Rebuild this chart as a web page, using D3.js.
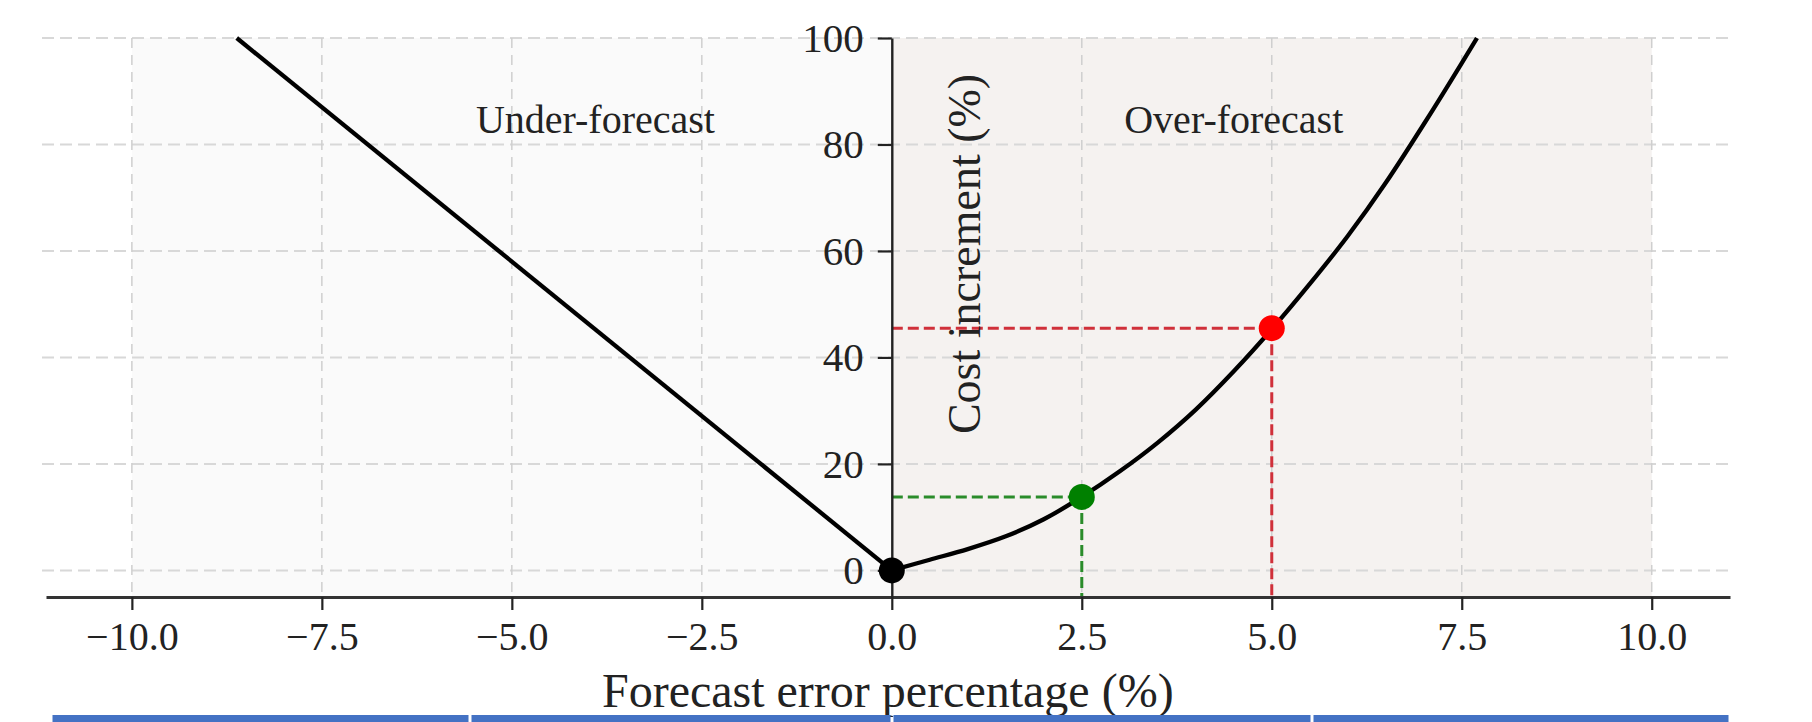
<!DOCTYPE html>
<html lang="en">
<head>
	<meta charset="utf-8">
	<title>Cost increment vs forecast error</title>
	<script type="text/javascript" src="https://d3js.org/d3.v7.min.js"></script>
	<style type="text/css">
		body { margin: 0; background: white; }
		svg text { font-family: "Liberation Serif", "Times New Roman", serif; fill: #222; }
	</style>
</head>
<body>
	<script type="text/javascript">
		// values
		var xTicks = [-10, -7.5, -5, -2.5, 0, 2.5, 5, 7.5, 10];
		var yTicks = [0, 20, 40, 60, 80, 100];

		var underX = [-8.62, 0];
		var underY = [100, 0];

		var overX = [0, 0.5, 1, 1.5, 2, 2.5, 3, 3.5, 4, 4.5, 5, 5.5, 6, 6.5, 7, 7.5, 7.7];
		var overY = [0, 2.0, 4.0, 6.4, 9.6, 13.8, 18.6, 24.0, 30.2, 37.4, 45.3, 53.8, 62.8, 72.8, 83.8, 95.3, 100];

		var pointX = [0, 2.5, 5];
		var pointY = [0, 13.8, 45.5];
		var pointName = ["origin", "moderate", "large"];

		var spans = [{from: -10, to: 0, label: "Under-forecast", labelX: -3.9},
		             {from: 0, to: 10, label: "Over-forecast", labelX: 4.5}];

		var width = 1812, height = 722;

		var dotColor = {origin: "#000000", moderate: "#008000", large: "#ff0000"};
		var guideColor = {moderate: "#2a8c2a", large: "#d0303a"};
		var spanColor = ["#fafafa", "#f5f2f0"];

		var x = d3.scaleLinear().domain([-11.13, 11.03]).range([46, 1730]);
		var y = d3.scaleLinear().domain([-5, 100]).range([597, 38]);

		var svg = d3.select("body")
			.append("svg")
			.attr("width", width)
			.attr("height", height);

		// shaded halves
		svg.selectAll(".span")
			.data(spans)
			.enter()
			.append("rect")
			.attr("class", "span")
			.attr("x", function(d) { return x(d.from); })
			.attr("y", y(100))
			.attr("width", function(d) { return x(d.to) - x(d.from); })
			.attr("height", y(-5) - y(100))
			.attr("fill", function(d, i) { return spanColor[i]; });

		// grid
		svg.selectAll(".hgrid")
			.data(yTicks)
			.enter()
			.append("line")
			.attr("x1", x.range()[0] - 4)
			.attr("x2", x.range()[1])
			.attr("y1", function(d) { return y(d); })
			.attr("y2", function(d) { return y(d); })
			.attr("stroke", "#d8d8d8")
			.attr("stroke-width", 2)
			.attr("stroke-dasharray", "12,6");

		svg.selectAll(".vgrid")
			.data(xTicks.filter(function(d) { return d !== 0; }))
			.enter()
			.append("line")
			.attr("x1", function(d) { return x(d); })
			.attr("x2", function(d) { return x(d); })
			.attr("y1", y(100))
			.attr("y2", y(-5))
			.attr("stroke", "#cfcfcf")
			.attr("stroke-width", 1.5)
			.attr("stroke-dasharray", "10,7");

		// region labels
		svg.selectAll(".spanlabel")
			.data(spans)
			.enter()
			.append("text")
			.attr("x", function(d) { return x(d.labelX); })
			.attr("y", y(82.2))
			.attr("text-anchor", "middle")
			.style("font-size", "40px")
			.text(function(d) { return d.label; });

		// dashed guides to the axes
		var guides = pointName.map(function(n, i) {
			return {name: n, px: pointX[i], py: pointY[i]};
		}).filter(function(d) { return guideColor[d.name]; });

		var g = svg.selectAll(".guide")
			.data(guides)
			.enter()
			.append("g");

		g.append("line")
			.attr("x1", x(0))
			.attr("x2", function(d) { return x(d.px); })
			.attr("y1", function(d) { return y(d.py); })
			.attr("y2", function(d) { return y(d.py); });
		g.append("line")
			.attr("x1", function(d) { return x(d.px); })
			.attr("x2", function(d) { return x(d.px); })
			.attr("y1", function(d) { return y(d.py); })
			.attr("y2", y(-5));
		g.selectAll("line")
			.attr("stroke", function() { return guideColor[d3.select(this.parentNode).datum().name]; })
			.attr("stroke-width", 3)
			.attr("stroke-dasharray", "11,5");

		// cost curves
		var line = d3.line()
			.x(function(d) { return x(d[0]); })
			.y(function(d) { return y(d[1]); })
			.curve(d3.curveMonotoneX);

		svg.append("path")
			.datum(d3.zip(underX, underY))
			.attr("d", line)
			.attr("fill", "none")
			.attr("stroke", "#000")
			.attr("stroke-width", 4.3);

		svg.append("path")
			.datum(d3.zip(overX, overY))
			.attr("d", line)
			.attr("fill", "none")
			.attr("stroke", "#000")
			.attr("stroke-width", 4.3);

		// axes
		var xAxis = d3.axisBottom(x)
			.tickValues(xTicks)
			.tickFormat(d3.format(".1f"))
			.tickSizeInner(13)
			.tickSizeOuter(0)
			.tickPadding(12);

		var xg = svg.append("g")
			.attr("transform", "translate(0," + y(-5) + ")")
			.call(xAxis);
		xg.select(".domain").attr("stroke", "#333").attr("stroke-width", 3);
		xg.selectAll(".tick line").attr("stroke", "#222").attr("stroke-width", 2.2);
		xg.selectAll(".tick text")
			.attr("font-family", null)
			.style("font-size", "40px")
			.attr("fill", null);

		var yAxis = d3.axisLeft(y)
			.tickValues(yTicks)
			.tickSizeInner(14)
			.tickSizeOuter(0)
			.tickPadding(14);

		var yg = svg.append("g")
			.attr("transform", "translate(" + x(0) + ",0)")
			.call(yAxis);
		yg.select(".domain").attr("stroke", "#222").attr("stroke-width", 2.4);
		yg.selectAll(".tick line").attr("stroke", "#222").attr("stroke-width", 2.2);
		yg.selectAll(".tick text")
			.attr("font-family", null)
			.style("font-size", "41px")
			.attr("fill", null);

		// markers
		svg.selectAll(".dot")
			.data(pointName)
			.enter()
			.append("circle")
			.attr("cx", function(d, i) { return x(pointX[i]); })
			.attr("cy", function(d, i) { return y(pointY[i]); })
			.attr("r", 13)
			.attr("fill", function(d) { return dotColor[d]; });

		// axis titles
		svg.append("text")
			.attr("x", x(0) - 4)
			.attr("y", 707)
			.attr("text-anchor", "middle")
			.style("font-size", "48px")
			.text("Forecast error percentage (%)");

		svg.append("text")
			.attr("transform", "translate(" + 980 + "," + 254 + ") rotate(-90)")
			.attr("text-anchor", "middle")
			.style("font-size", "46px")
			.text("Cost increment (%)");

		// cropped table header strip under the figure
		var cols = [51, 470, 892, 1312, 1730];
		svg.selectAll(".strip")
			.data(d3.pairs(cols))
			.enter()
			.append("rect")
			.attr("x", function(d) { return d[0] + 1.5; })
			.attr("y", 715)
			.attr("width", function(d) { return d[1] - d[0] - 3; })
			.attr("height", 7)
			.attr("fill", "#4472c4");
	</script>
</body>
</html>
